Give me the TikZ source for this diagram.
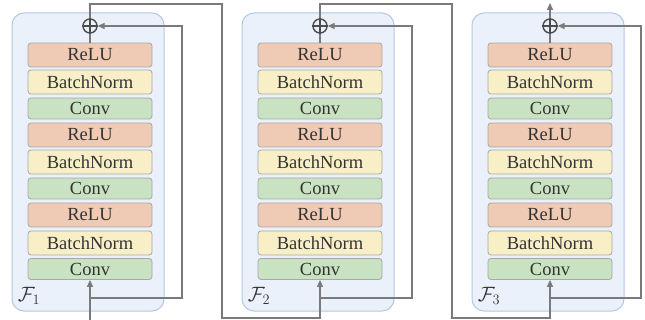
\documentclass[tikz,border=0pt]{standalone}
\usepackage{fontspec}
\setmainfont{Liberation Serif}
\usetikzlibrary{arrows.meta}

\definecolor{relucol}{HTML}{EFCBB5}
\definecolor{normcol}{HTML}{F8EFC6}
\definecolor{convcol}{HTML}{C9E2C1}
\definecolor{boxline}{HTML}{A8A8A8}
\definecolor{blkfill}{HTML}{EAF1FA}
\definecolor{blkline}{HTML}{B4C8E6}
\definecolor{linecol}{HTML}{7A7A7A}
\definecolor{txt}{HTML}{333333}

\begin{document}
\begin{tikzpicture}[x=1pt,y=-1pt]
   \tikzset{layer/.style 2 args={draw=boxline, fill=#1, rounded corners=3pt, line width=0.8pt, minimum width=124pt, minimum height=#2, inner sep=0pt, text=txt, font=\fontsize{18.5}{20}\selectfont}};
   \tikzset{relu/.style={layer={relucol}{24pt}}, norm/.style={layer={normcol}{24pt}}, conv/.style={layer={convcol}{21pt}}};
   \tikzset{block/.style={draw=blkline, fill=blkfill, line width=1pt, rounded corners=12pt, minimum width=152pt, minimum height=298pt, inner sep=0pt}};
   \tikzset{add/.style={draw=black!70, circle, line width=1.4pt, minimum size=14pt, inner sep=0pt}};
   \tikzset{flabel/.style={text=txt, font=\fontsize{21}{22}\selectfont}};
   \tikzset{conn/.style={draw=linecol, line width=1.4pt}, arr/.style={conn, -{Triangle[length=7pt,width=6pt]}}};
   \useasboundingbox (0,0) rectangle (645,320);

% containers
\node[block] (blk1) at (88,162) {};
\node[block] (blk2) at (318,162) {};
\node[block] (blk3) at (548,162) {};

% block 1
\node[relu] (r1a) at (90,55) {ReLU};
\node[norm] (n1a) at (90,82) {BatchNorm};
\node[conv] (c1a) at (90,108.5) {Conv};
\node[relu] (r1b) at (90,135) {ReLU};
\node[norm] (n1b) at (90,162) {BatchNorm};
\node[conv] (c1b) at (90,188.5) {Conv};
\node[relu] (r1c) at (90,215) {ReLU};
\node[norm] (n1c) at (90,243) {BatchNorm};
\node[conv] (c1c) at (90,269) {Conv};
\node[add] (op1) at (90,26) {};
\node[flabel] (f1) at (29,296) {$\mathcal{F}_1$};

% block 2
\node[relu] (r2a) at (320,55) {ReLU};
\node[norm] (n2a) at (320,82) {BatchNorm};
\node[conv] (c2a) at (320,108.5) {Conv};
\node[relu] (r2b) at (320,135) {ReLU};
\node[norm] (n2b) at (320,162) {BatchNorm};
\node[conv] (c2b) at (320,188.5) {Conv};
\node[relu] (r2c) at (320,215) {ReLU};
\node[norm] (n2c) at (320,243) {BatchNorm};
\node[conv] (c2c) at (320,269) {Conv};
\node[add] (op2) at (320,26) {};
\node[flabel] (f2) at (259,296) {$\mathcal{F}_2$};

% block 3
\node[relu] (r3a) at (550,55) {ReLU};
\node[norm] (n3a) at (550,82) {BatchNorm};
\node[conv] (c3a) at (550,108.5) {Conv};
\node[relu] (r3b) at (550,135) {ReLU};
\node[norm] (n3b) at (550,162) {BatchNorm};
\node[conv] (c3b) at (550,188.5) {Conv};
\node[relu] (r3c) at (550,215) {ReLU};
\node[norm] (n3c) at (550,243) {BatchNorm};
\node[conv] (c3c) at (550,269) {Conv};
\node[add] (op3) at (550,26) {};
\node[flabel] (f3) at (489,296) {$\mathcal{F}_3$};

% plus signs
\draw[draw=black!70, line width=1.4pt] (op1.north) -- (op1.south) (op1.west) -- (op1.east);
\draw[draw=black!70, line width=1.4pt] (op2.north) -- (op2.south) (op2.west) -- (op2.east);
\draw[draw=black!70, line width=1.4pt] (op3.north) -- (op3.south) (op3.west) -- (op3.east);

% turning points
\coordinate (in1) at (90,320);
\coordinate (s1) at (90,298);
\coordinate (k1) at (182,298);
\coordinate (t1) at (222,4);
\coordinate (b1) at (222,318);
\coordinate (s2) at (320,298);
\coordinate (k2) at (412,298);
\coordinate (t2) at (452,4);
\coordinate (b2) at (452,318);
\coordinate (s3) at (550,298);
\coordinate (k3) at (641,298);
\coordinate (out) at (550,3);

% connectors
\draw[conn] (r1a) -- (op1);
\draw[conn] (r2a) -- (op2);
\draw[conn] (r3a) -- (op3);
\draw[arr] (in1) -- (c1c);
\draw[arr] (s1) -- (k1) |- (op1);
\draw[arr] (op1) |- (t1) -- (b1) -| (c2c);
\draw[arr] (s2) -- (k2) |- (op2);
\draw[arr] (op2) |- (t2) -- (b2) -| (c3c);
\draw[arr] (s3) -- (k3) |- (op3);
\draw[arr] (op3) -- (out);

\end{tikzpicture}
\end{document}
